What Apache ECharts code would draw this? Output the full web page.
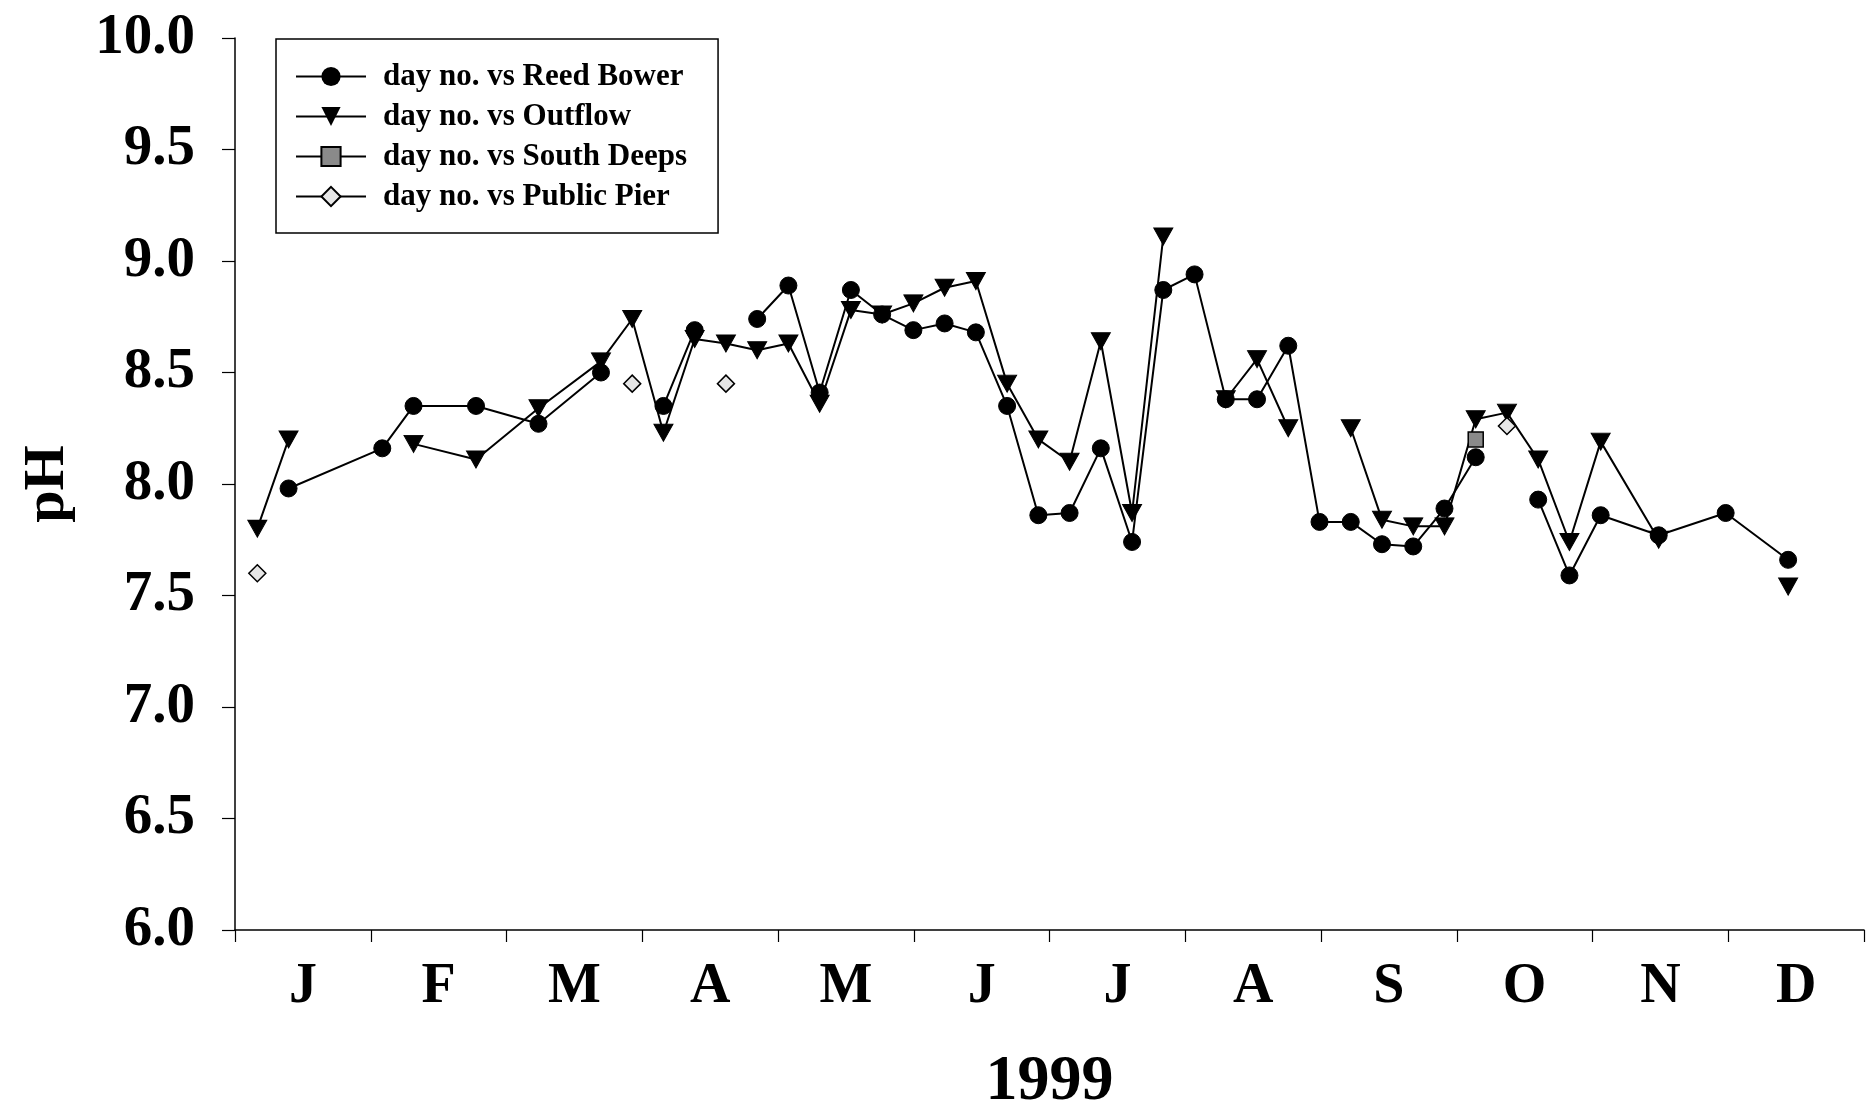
<!DOCTYPE html>
<html>
<head>
<meta charset="utf-8">
<script src="https://cdn.jsdelivr.net/npm/echarts@6/dist/echarts.min.js"></script>
<style>
html,body{margin:0;padding:0;background:#fff;}
#chart{width:1874px;height:1120px;}
</style>
</head>
<body>
<div id="chart"></div>
<script>
// Sample day numbers (day of year, 1999)
const days = [5,12,33,40,54,68,82,89,96,103,110,117,124,131,138,145,152,159,166,173,180,187,194,201,208,215,222,229,236,243,250,257,264,271,278,285,292,299,306,319,334,348];
// pH values per site (null = not sampled)
const reedBower = [null,7.98,8.16,8.35,8.35,8.27,8.50,null,8.35,8.69,null,8.74,8.89,8.41,8.87,8.76,8.69,8.72,8.68,8.35,7.86,7.87,8.16,7.74,8.87,8.94,8.38,8.38,8.62,7.83,7.83,7.73,7.72,7.89,8.12,null,7.93,7.59,7.86,7.77,7.87,7.66];
const outflow = [7.80,8.20,null,8.18,8.11,8.34,8.55,8.74,8.23,8.65,8.63,8.60,8.63,8.36,8.78,8.76,8.81,8.88,8.91,8.45,8.20,8.10,8.64,7.87,9.11,null,8.38,8.56,8.25,null,8.25,7.84,7.81,7.81,8.29,8.32,8.11,7.74,8.19,7.75,null,7.54];
const southDeeps = [null,null,null,null,null,null,null,null,null,null,null,null,null,null,null,null,null,null,null,null,null,null,null,null,null,null,null,null,null,null,null,null,null,null,8.20,null,null,null,null,null,null,null];
const publicPier = [7.60,null,null,null,null,null,null,8.45,null,null,8.45,null,null,null,null,null,null,null,null,null,null,null,null,null,null,null,null,null,null,null,null,null,null,null,null,8.26,null,null,null,null,null,null];
const months = ['J','F','M','A','M','J','J','A','S','O','N','D'];
const seriesNames = ['day no. vs Reed Bower','day no. vs Outflow','day no. vs South Deeps','day no. vs Public Pier'];

const FONT = '"Liberation Serif", "Times New Roman", serif';
function pairs(vals){ return days.map((d,i)=>[d, vals[i]===null ? '-' : vals[i]]); }

const chart = echarts.init(document.getElementById('chart'), null, {renderer:'canvas'});
const lineStyle = {color:'#000', width:2};
chart.setOption({
  backgroundColor:'#fff',
  animation:false,
  grid:{left:235, right:10, top:38, bottom:190, containLabel:false},
  legend:{
    orient:'vertical', left:276, top:39,
    borderColor:'#000', borderWidth:1.5, borderRadius:0,
    padding:[22,31,21,19],
    itemWidth:70, itemHeight:24, itemGap:9,
    textStyle:{fontFamily:FONT, fontWeight:'bold', fontSize:31, color:'#000', padding:[0,0,0,12]},
    data:seriesNames
  },
  xAxis:[{
    type:'value', min:0, max:365, interval:365/12,
    axisLine:{show:true, lineStyle:{color:'#000', width:1.5}},
    axisTick:{show:true, inside:false, length:12, lineStyle:{color:'#000', width:1.2}},
    axisLabel:{show:false},
    splitLine:{show:false},
    name:'1999', nameLocation:'middle', nameGap:120,
    nameTextStyle:{fontFamily:FONT, fontWeight:'bold', fontSize:64, color:'#000'}
  },{
    type:'category', data:months, position:'bottom', boundaryGap:true,
    axisLine:{show:false}, axisTick:{show:false},
    axisLabel:{fontFamily:FONT, fontWeight:'bold', fontSize:56, color:'#000', margin:30},
    splitLine:{show:false}
  }],
  yAxis:{
    type:'value', min:6, max:10, interval:0.5,
    axisLine:{show:true, lineStyle:{color:'#000', width:1.5}},
    axisTick:{show:true, inside:false, length:13, lineStyle:{color:'#000', width:1.2}},
    axisLabel:{fontFamily:FONT, fontWeight:'bold', fontSize:57, color:'#000', margin:40,
      formatter:v=>v.toFixed(1)},
    splitLine:{show:false},
    name:'pH', nameLocation:'middle', nameGap:158, nameRotate:90,
    nameTextStyle:{fontFamily:FONT, fontWeight:'bold', fontSize:58, color:'#000'}
  },
  series:[{
    name:seriesNames[0], type:'line', xAxisIndex:0, data:pairs(reedBower),
    symbol:'circle', symbolSize:17, connectNulls:false,
    itemStyle:{color:'#000', borderColor:'#000'}, lineStyle:lineStyle, z:3
  },{
    name:seriesNames[1], type:'line', xAxisIndex:0, data:pairs(outflow),
    symbol:'triangle', symbolRotate:180, symbolSize:[19,17], connectNulls:false,
    itemStyle:{color:'#000', borderColor:'#000'}, lineStyle:lineStyle, z:2
  },{
    name:seriesNames[2], type:'line', xAxisIndex:0, data:pairs(southDeeps),
    symbol:'rect', symbolSize:15, connectNulls:false,
    itemStyle:{color:'#8a8a8a', borderColor:'#000', borderWidth:1.5}, lineStyle:lineStyle, z:4
  },{
    name:seriesNames[3], type:'line', xAxisIndex:0, data:pairs(publicPier),
    symbol:'diamond', symbolSize:17, connectNulls:false,
    itemStyle:{color:'#e6e6e6', borderColor:'#000', borderWidth:1.5}, lineStyle:lineStyle, z:4
  }]
});
</script>
</body>
</html>
